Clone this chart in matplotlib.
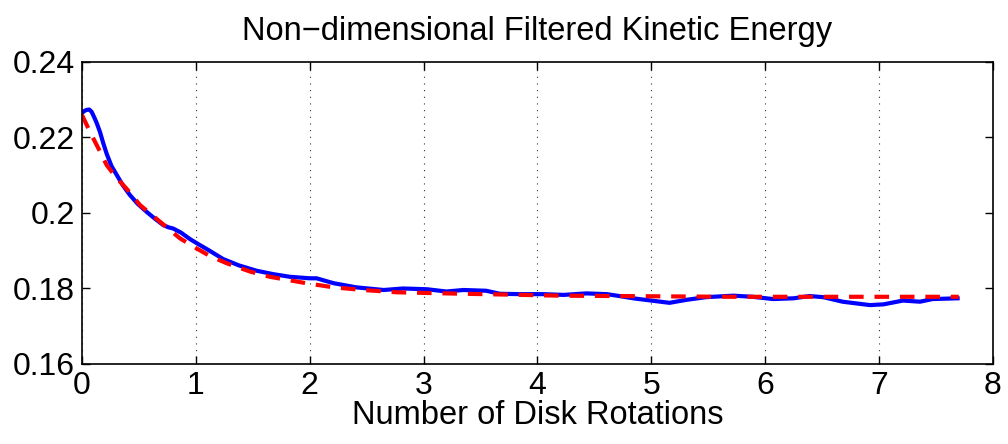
import numpy as np
import matplotlib
matplotlib.use("Agg")
import matplotlib.pyplot as plt

plt.rcParams['font.family'] = ['Liberation Sans', 'DejaVu Sans']

# filtered kinetic energy vs. disk rotations (simulation)
rot_sim = [0, 0.02, 0.04, 0.064, 0.085, 0.11, 0.13, 0.158, 0.185, 0.217,
           0.26, 0.305, 0.36, 0.42, 0.49, 0.568, 0.64, 0.714, 0.76, 0.80,
           0.87, 0.948, 1.03, 1.11, 1.24, 1.38, 1.534, 1.68, 1.826, 2.0, 2.06,
           2.21, 2.41, 2.65, 2.82, 3.03, 3.20, 3.35, 3.55, 3.67, 3.85, 4.05,
           4.23, 4.43, 4.61, 4.72, 4.84, 5.0, 5.16, 5.31, 5.48, 5.72, 5.89,
           6.07, 6.25, 6.39, 6.51, 6.68, 6.92, 7.04, 7.21, 7.36, 7.47, 7.69]
ke_sim = [0.2265, 0.2270, 0.2273, 0.2274, 0.2268, 0.2252, 0.2238, 0.2215,
          0.2187, 0.2157, 0.2124, 0.2101, 0.2073, 0.2048, 0.2024, 0.2003,
          0.1985, 0.1968, 0.1962, 0.1959, 0.1948, 0.1931, 0.1916, 0.1902,
          0.1878, 0.1861, 0.1847, 0.1838, 0.1831, 0.1827, 0.1827, 0.1814,
          0.1803, 0.1796, 0.1800, 0.1798, 0.1792, 0.1796, 0.1794, 0.1786,
          0.1785, 0.1785, 0.1783, 0.1787, 0.1785, 0.1780, 0.1774, 0.1768,
          0.1762, 0.1770, 0.1777, 0.1781, 0.1778, 0.1772, 0.1774, 0.1780,
          0.1777, 0.1765, 0.1756, 0.1758, 0.1768, 0.1765, 0.1772, 0.1774]

# decay fit
rot_fit = [0, 0.05, 0.099, 0.16, 0.217, 0.3, 0.39, 0.51, 0.685, 0.86, 1.007,
           1.124, 1.27, 1.475, 1.65, 1.97, 2.21, 2.47, 2.76, 3.2, 3.7, 4.2,
           4.7, 5.2, 5.7, 6.2, 6.7, 7.2, 7.7]
ke_fit = [0.2260, 0.2228, 0.2198, 0.2162, 0.2127, 0.2094, 0.2065, 0.2021,
          0.1977, 0.1933, 0.1906, 0.1886, 0.1867, 0.1845, 0.1831, 0.1814,
          0.1803, 0.1796, 0.1790, 0.1787, 0.1784, 0.1781, 0.1780, 0.1779,
          0.1778, 0.1778, 0.1778, 0.1778, 0.1778]

xticks = [0, 1, 2, 3, 4, 5, 6, 7, 8]
yticks = [0.16, 0.18, 0.2, 0.22, 0.24]
ytick_labels = ['0.16', '0.18', '0.2', '0.22', '0.24']

fig = plt.figure(figsize=(10.08, 4.44), dpi=100)
ax = fig.add_axes([0.0813, 0.1802, 0.9037, 0.6802])

ax.plot(rot_sim, ke_sim, color='#0000ff', lw=3.0, solid_joinstyle='round')
ax.plot(rot_fit, ke_fit, color='#ff0000', lw=3.0, dashes=(3.5, 2.6))

ax.set_xlim(0, 8)
ax.set_ylim(0.16, 0.24)
ax.set_xticks(xticks)
ax.set_yticks(yticks)
ax.set_yticklabels(ytick_labels)
ax.xaxis.grid(True, linestyle=(0, (1, 5)), color='#333333', lw=0.8)
ax.tick_params(direction='in', length=6, width=1, top=True, right=True,
               labelsize=23)
ax.tick_params(axis='x', pad=5)
ax.tick_params(axis='y', pad=5)
for s in ax.spines.values():
    s.set_linewidth(1.2)

ax.set_title('Non\u2212dimensional Filtered Kinetic Energy', fontsize=23.5, pad=16)
ax.set_xlabel('Number of Disk Rotations', fontsize=23.5, labelpad=-1)

fig.savefig('out.png', dpi=100)
